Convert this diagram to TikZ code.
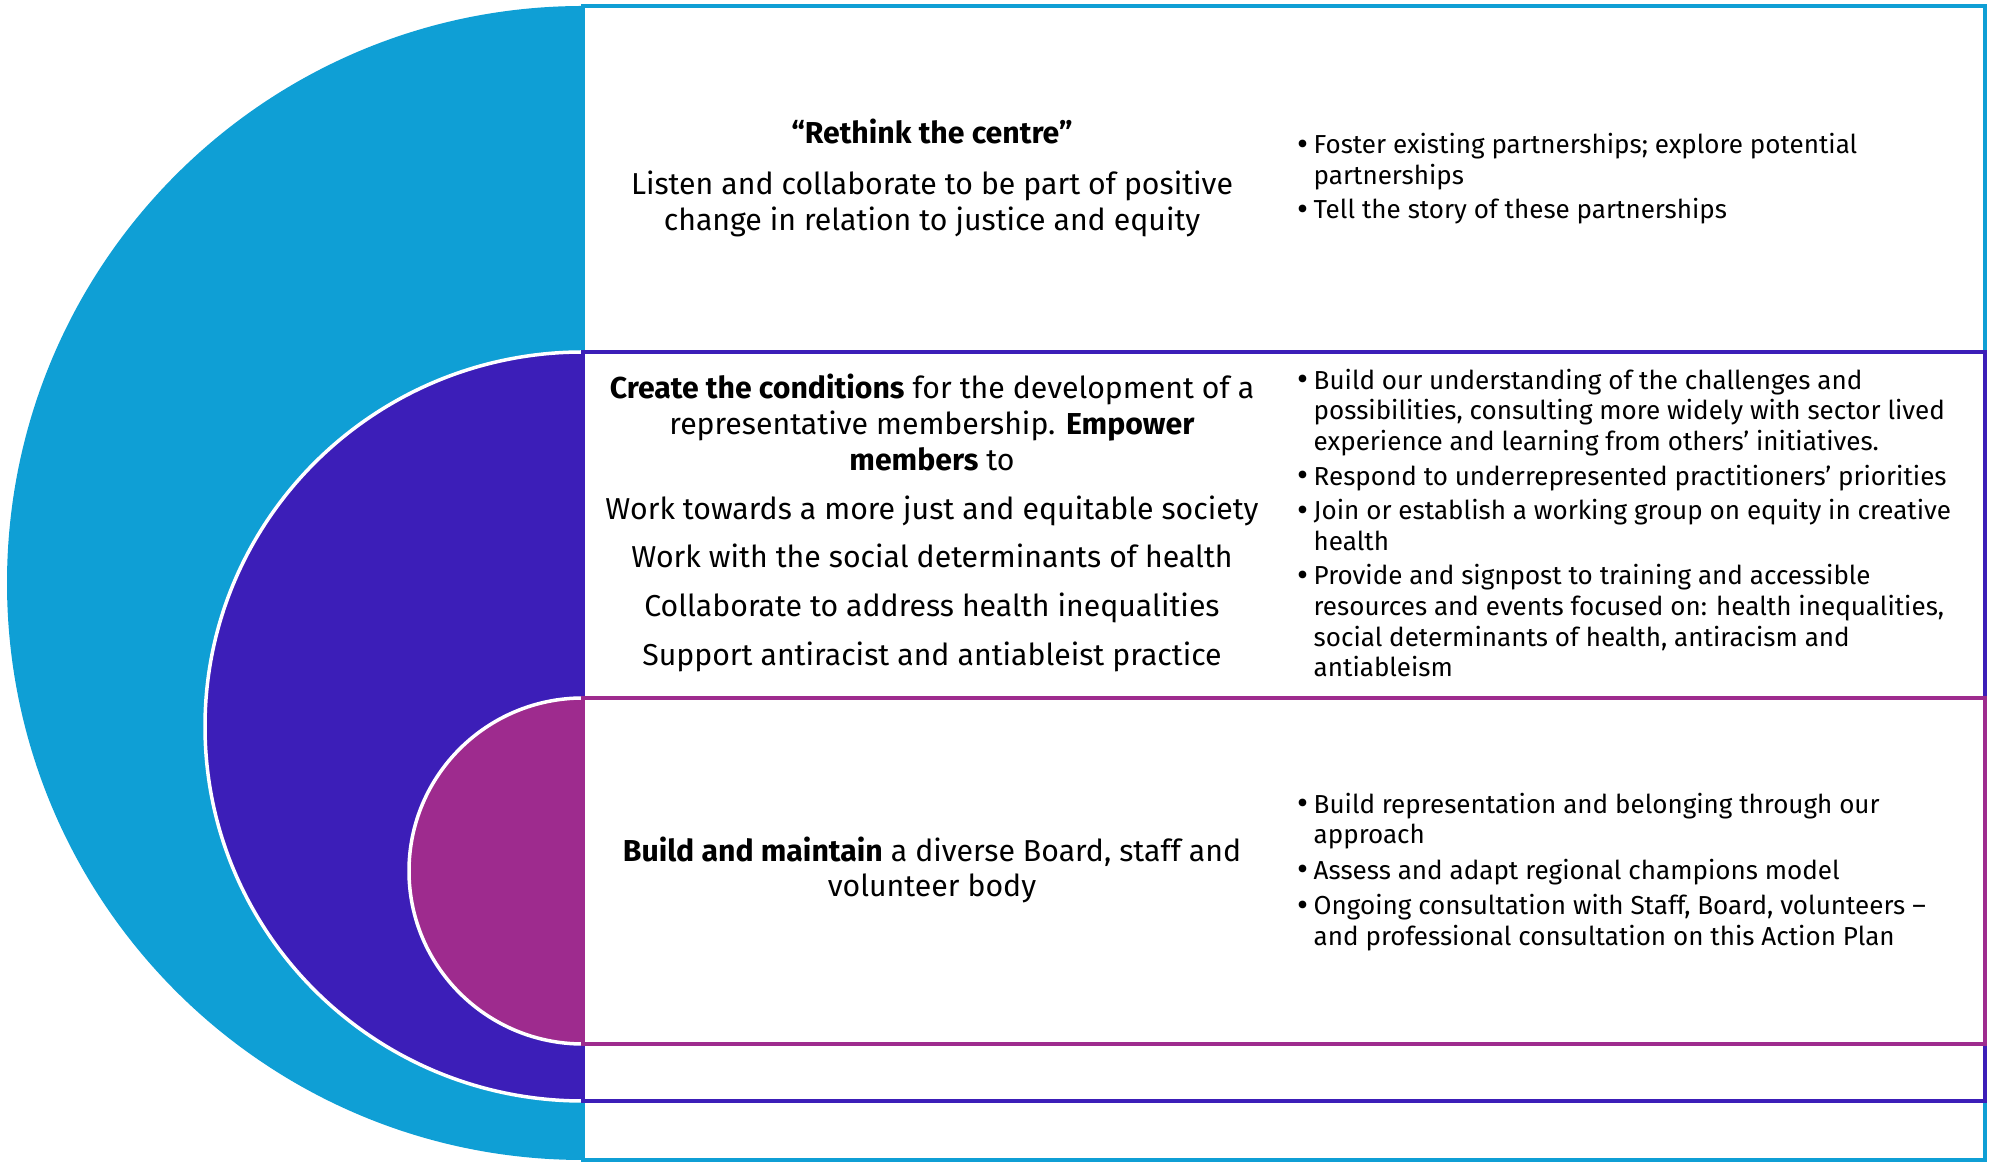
\documentclass[tikz,border=0pt]{standalone}
\usepackage{fontspec}
\setmainfont{Fira Sans}
\definecolor{skyblue}{HTML}{0F9FD5}
\definecolor{indigo}{HTML}{3C1EB8}
\definecolor{plum}{HTML}{9E2B8E}
\newcommand{\bul}{\makebox[0.16cm][l]{\raisebox{-0.1ex}{\scalebox{1.3}{\textbullet}}}}
\newcommand{\cont}{\hspace*{0.16cm}}

\begin{document}
\begin{tikzpicture}
  [
    x            = 0.01cm,
    y            = 0.01cm,
    band/.style  = {draw=#1, line width=0.04cm},
    ring/.style  = {fill=#1, draw=white, line width=0.035cm},
    aim/.style   = {align=center, inner sep=0pt, font=\fontsize{8.6}{10.2}\selectfont},
    list/.style  = {align=left, anchor=west, inner sep=0pt, font=\fontsize{7.4}{8.7}\selectfont}
  ]

  \useasboundingbox (0,0) rectangle (1993,-1168);

  % nested half discs
  \fill[skyblue] (583,-6) arc[start angle=90, end angle=270, x radius=576, y radius=577] -- cycle;
  \draw[ring=indigo] (583,-352) arc[start angle=90, end angle=270, x radius=378, y radius=374.5] -- cycle;
  \draw[ring=plum] (583,-698) arc[start angle=90, end angle=270, x radius=174, y radius=173] -- cycle;

  % nested frames
  \draw[band=skyblue] (583,-6) rectangle (1985,-1160);
  \draw[band=indigo] (583,-352) rectangle (1985,-1101);
  \draw[band=plum] (583,-698) rectangle (1985,-1044);

  % aims
  \node[aim] (rethink) at (932,-178)
    {\textbf{“Rethink the centre”}\\[0.15cm]
     Listen and collaborate to be part of positive\\
     change in relation to justice and equity};
  \node[aim] (conditions) at (932,-523)
    {\textbf{Create the conditions} for the development of a\\
     representative membership. \textbf{Empower}\\
     \textbf{members} to\\[0.13cm]
     Work towards a more just and equitable society\\[0.13cm]
     Work with the social determinants of health\\[0.13cm]
     Collaborate to address health inequalities\\[0.13cm]
     Support antiracist and antiableist practice};
  \node[aim] (build) at (932,-870)
    {\textbf{Build and maintain} a diverse Board, staff and\\
     volunteer body};

  % actions
  \node[list] (partners) at (1297,-179)
    {\bul Foster existing partnerships; explore potential\\
     \cont partnerships\\[0.04cm]
     \bul Tell the story of these partnerships};
  \node[list] (understanding) at (1297,-523)
    {\bul Build our understanding of the challenges and\\
     \cont possibilities, consulting more widely with sector lived\\
     \cont experience and learning from others’ initiatives.\\[0.04cm]
     \bul Respond to underrepresented practitioners’ priorities\\[0.04cm]
     \bul Join or establish a working group on equity in creative\\
     \cont health\\[0.04cm]
     \bul Provide and signpost to training and accessible\\
     \cont resources and events focused on: health inequalities,\\
     \cont social determinants of health, antiracism and\\
     \cont antiableism};
  \node[list] (representation) at (1297,-872)
    {\bul Build representation and belonging through our\\
     \cont approach\\[0.05cm]
     \bul Assess and adapt regional champions model\\[0.05cm]
     \bul Ongoing consultation with Staff, Board, volunteers –\\
     \cont and professional consultation on this Action Plan};
\end{tikzpicture}
\end{document}
